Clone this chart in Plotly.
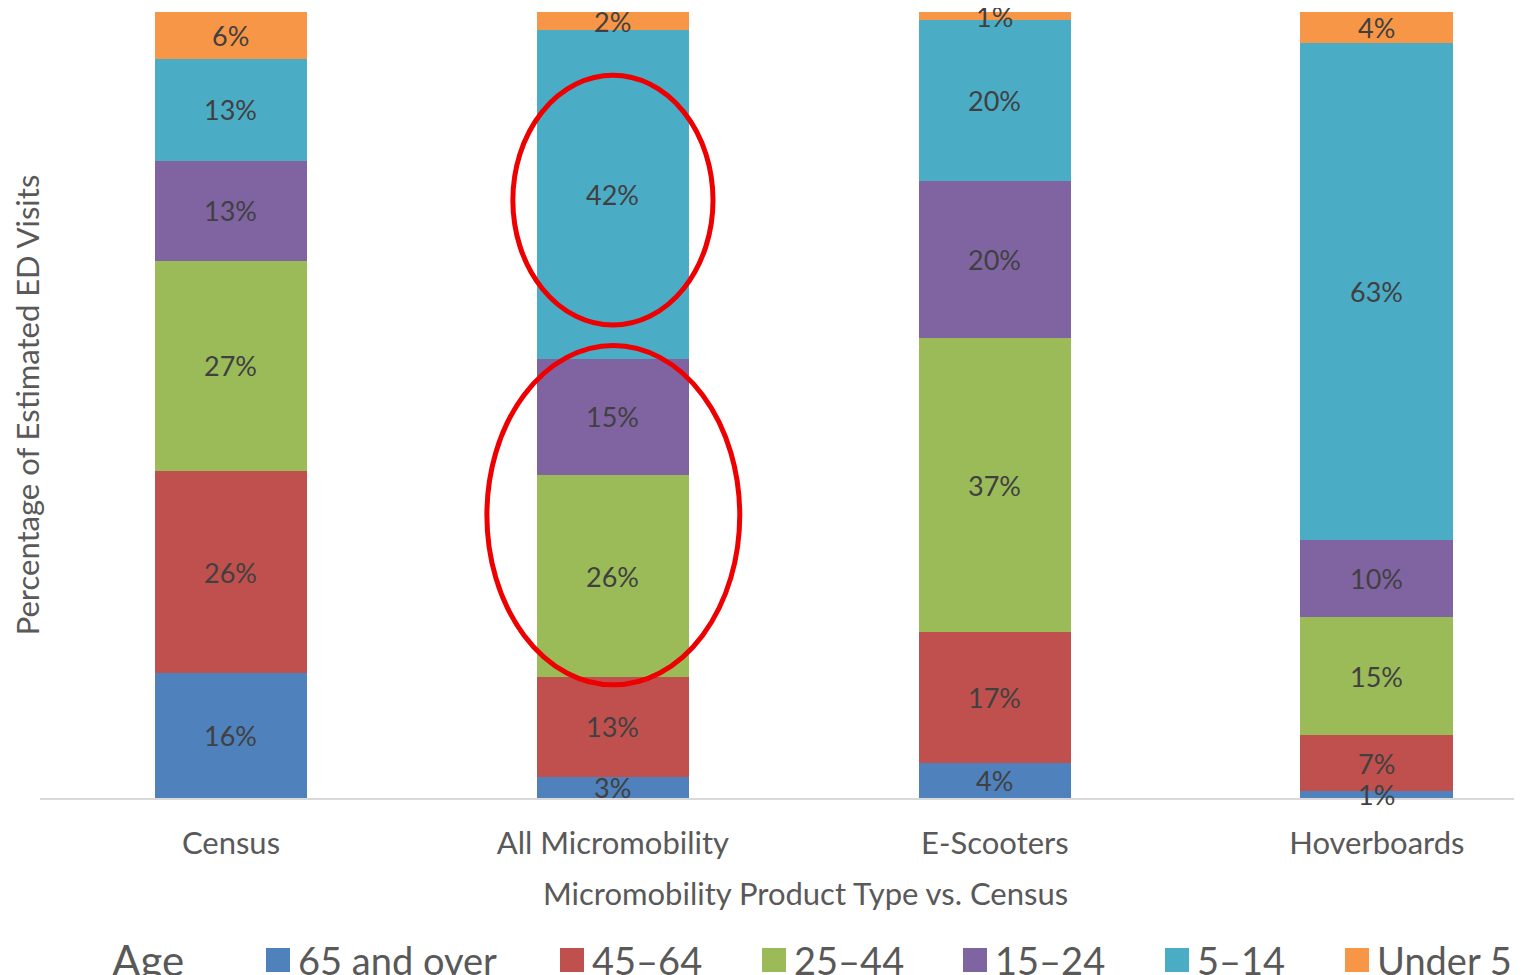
import plotly.graph_objects as go

# categories and age groups
categories = ["Census", "All Micromobility", "E-Scooters", "Hoverboards"]
age_groups = ["65 and over", "45\u201364", "25\u201344", "15\u201324", "5\u201314", "Under 5"]

# share of estimated ED visits (%), bottom to top
pct_65_over = [15.9, 2.7, 4.4, 0.9]
pct_45_64 = [25.7, 12.7, 16.7, 7.1]
pct_25_44 = [26.8, 25.7, 37.4, 15.0]
pct_15_24 = [12.7, 14.8, 20.1, 9.9]
pct_5_14 = [13.0, 41.8, 20.4, 63.2]
pct_under_5 = [5.9, 2.3, 1.0, 3.9]

series = [pct_65_over, pct_45_64, pct_25_44, pct_15_24, pct_5_14, pct_under_5]
colors = ["#4F81BD", "#C0504D", "#9BBB59", "#8064A2", "#4BACC6", "#F79646"]

FONT = "Lato"
TXT = "#595959"

# page body adds an 8px margin, so the figure is 8px smaller than the window
OFF = 8
W, H = 1522 - OFF, 975 - OFF
L, R, T, B = 40 - OFF, 0, 12 - OFF, 177
PW, PH = W - L - R, H - T - B


def px_x(px):
    # window pixel -> paper x
    return (px - OFF - L) / PW


def px_y(py):
    # window pixel -> paper y
    return (H - B - (py - OFF)) / PH


fig = go.Figure()
for name, vals, c in zip(age_groups, series, colors):
    fig.add_trace(go.Bar(
        x=categories, y=vals, name=name,
        marker=dict(color=c, line=dict(width=0)),
    ))

# value labels centred in each segment, drawn on top of every bar
base = [0.0] * len(categories)
for vals in series:
    for i, (cat, v) in enumerate(zip(categories, vals)):
        fig.add_annotation(x=cat, y=base[i] + v / 2, xref="x", yref="y",
                           text=f"{round(v)}%", showarrow=False,
                           font=dict(family=FONT, size=27, color="#404040"))
        base[i] += v

# red highlight ellipses around the All Micromobility blocks
fig.add_shape(type="circle", xref="x", yref="y", x0=0.738, x1=1.262, y0=60.2, y1=92.0,
              line=dict(color="#EE0000", width=5))
fig.add_shape(type="circle", xref="x", yref="y", x0=0.670, x1=1.332, y0=14.4, y1=57.6,
              line=dict(color="#EE0000", width=5))

# x title sits right of the plot centre in the original
fig.add_annotation(text="Micromobility Product Type vs. Census", xref="paper", yref="paper",
                   x=px_x(805), y=px_y(893), xanchor="center", yanchor="middle",
                   showarrow=False, font=dict(family=FONT, size=31, color=TXT))

# legend drawn by hand: big square swatches like the original
legend_left = [266, 560, 762, 963, 1165, 1345]
leg_cy = 960
fig.add_annotation(text="Age", xref="paper", yref="paper", x=px_x(110), y=px_y(leg_cy),
                   xanchor="left", yanchor="middle", showarrow=False,
                   font=dict(family=FONT, size=42, color=TXT))
for name, c, lx in zip(age_groups, colors, legend_left):
    fig.add_shape(type="rect", xref="paper", yref="paper",
                  x0=px_x(lx), x1=px_x(lx + 24), y0=px_y(leg_cy + 12), y1=px_y(leg_cy - 12),
                  fillcolor=c, line=dict(width=0))
    fig.add_annotation(text=name, xref="paper", yref="paper", x=px_x(lx + 30), y=px_y(leg_cy),
                       xanchor="left", yanchor="middle", showarrow=False,
                       font=dict(family=FONT, size=38, color=TXT))

fig.update_layout(
    barmode="stack", bargap=0.6,
    width=W, height=H,
    margin=dict(l=L, r=R, t=T, b=B, autoexpand=False),
    plot_bgcolor="white", paper_bgcolor="white",
    font=dict(family=FONT, color=TXT),
    showlegend=False,
)
fig.update_xaxes(range=[-0.5, 3.38], showline=True, linecolor="#D9D9D9", linewidth=2,
                 ticks="", ticklabelstandoff=17, tickfont=dict(size=31, color=TXT))
fig.update_yaxes(range=[0, 100.05], showticklabels=False, showgrid=False, zeroline=False,
                 title=dict(text="Percentage of Estimated ED Visits",
                            font=dict(size=31, color=TXT), standoff=0))

fig.write_html("out.html")
